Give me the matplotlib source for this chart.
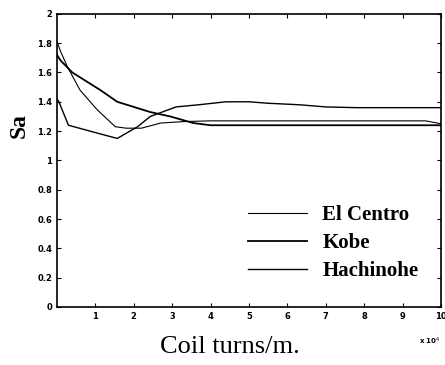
import matplotlib.pyplot as plt
import numpy as np

# -----------------------
# Data (x in units of 1e4 coil turns/m)
# -----------------------
x_elcentro = [0.0, 0.1, 0.27, 0.6, 1.05, 1.52, 1.8, 2.2, 2.7, 3.3, 4.0, 5.0, 6.0, 7.0, 8.0, 9.0, 9.6, 10.0]
y_elcentro = [1.81, 1.74, 1.64, 1.48, 1.345, 1.23, 1.22, 1.22, 1.255, 1.265, 1.27, 1.27, 1.27, 1.27, 1.27, 1.27, 1.27, 1.25]

x_kobe = [0.0, 0.1, 0.4, 1.13, 1.57, 2.43, 2.95, 3.55, 4.0, 5.0, 6.0, 7.0, 8.0, 9.0, 10.0]
y_kobe = [1.72, 1.68, 1.60, 1.48, 1.40, 1.33, 1.30, 1.255, 1.24, 1.24, 1.24, 1.24, 1.24, 1.24, 1.24]

x_hachinohe = [0.0, 0.05, 0.3, 1.0, 1.57, 2.1, 2.43, 3.1, 3.7, 4.4, 5.0, 5.5, 6.3, 7.0, 7.8, 9.0, 10.0]
y_hachinohe = [1.42, 1.40, 1.24, 1.19, 1.15, 1.23, 1.30, 1.365, 1.38, 1.40, 1.40, 1.39, 1.38, 1.365, 1.36, 1.36, 1.36]

labels = ["El Centro", "Kobe", "Hachinohe"]
xticks = [1, 2, 3, 4, 5, 6, 7, 8, 9, 10]
yticks = [0, 0.2, 0.4, 0.6, 0.8, 1, 1.2, 1.4, 1.6, 1.8, 2]
ytick_labels = ["0", "0.2", "0.4", "0.6", "0.8", "1", "1.2", "1.4", "1.6", "1.8", "2"]

# -----------------------
# Plot
# -----------------------
fig = plt.figure(figsize=(4.45, 3.65), dpi=100)
ax = fig.add_axes([0.128, 0.159, 0.863, 0.803])

ax.plot(x_elcentro, y_elcentro, color="black", lw=0.8, label=labels[0])
ax.plot(x_kobe, y_kobe, color="black", lw=1.3, label=labels[1])
ax.plot(x_hachinohe, y_hachinohe, color="black", lw=1.0, label=labels[2])

ax.set_xlim(0, 10)
ax.set_ylim(0, 2)
ax.set_xticks(xticks)
ax.set_xticklabels([str(t) for t in xticks])
ax.set_yticks(yticks)
ax.set_yticklabels(ytick_labels)
ax.tick_params(direction="in", top=True, right=True, length=3, width=0.8,
               labelsize=6)
for lbl in ax.get_xticklabels() + ax.get_yticklabels():
    lbl.set_fontweight("bold")
for sp in ax.spines.values():
    sp.set_linewidth(1.2)

ax.set_xlabel("Coil turns/m.", fontsize=19, family="Liberation Serif")
ax.xaxis.set_label_coords(0.451, -0.1)
ax.set_ylabel("Sa", fontsize=17, family="Liberation Serif", fontweight="bold")
ax.yaxis.set_label_coords(-0.07, 0.62)
ax.text(1.0, -0.116, r"x 10$^4$", transform=ax.transAxes, fontsize=5,
        fontweight="bold", ha="right", va="center")

leg = ax.legend(loc="lower left", bbox_to_anchor=(0.477, 0.06), borderaxespad=0,
                frameon=False,
                prop={"family": "Liberation Serif", "size": 15, "weight": "bold"},
                handlelength=2.8, handletextpad=0.75, labelspacing=0.38)

fig.savefig("out.png", dpi=100)
